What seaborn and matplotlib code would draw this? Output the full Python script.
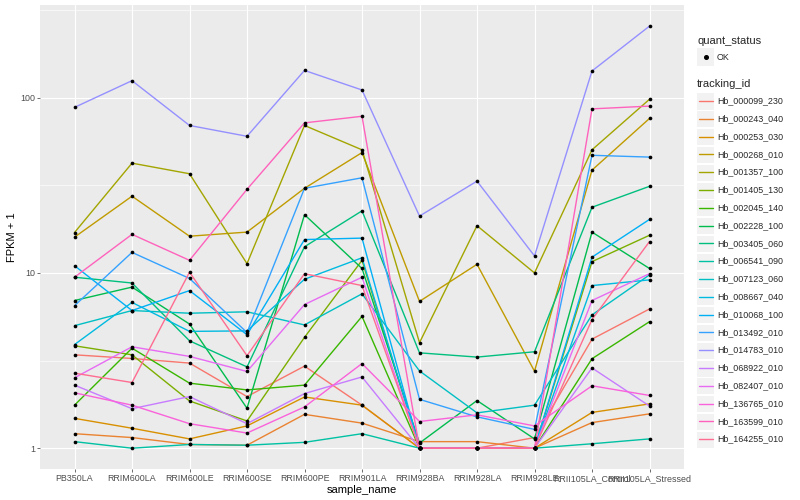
import numpy as np
import pandas as pd
import matplotlib
matplotlib.use("Agg")
import matplotlib.pyplot as plt
import seaborn as sns
from matplotlib.patches import Rectangle
from matplotlib.lines import Line2D
from matplotlib.ticker import NullFormatter

# samples on the x axis
samples = ["PB350LA", "RRIM600LA", "RRIM600LE", "RRIM600SE", "RRIM600PE",
           "RRIM901LA", "RRIM928BA", "RRIM928LA", "RRIM928LE",
           "RRII105LA_Control", "RRII105LA_Stressed"]

tracking_ids = ["Hb_000099_230", "Hb_000243_040", "Hb_000253_030", "Hb_000268_010",
                "Hb_001357_100", "Hb_001405_130", "Hb_002045_140", "Hb_002228_100",
                "Hb_003405_060", "Hb_006541_090", "Hb_007123_060", "Hb_008667_040",
                "Hb_010068_100", "Hb_013492_010", "Hb_014783_010", "Hb_068922_010",
                "Hb_082407_010", "Hb_136765_010", "Hb_163599_010", "Hb_164255_010"]

# FPKM + 1 per sample
hb_000099_230 = [3.41, 3.25, 3.06, 1.97, 2.94, 1.76, 1.0, 1.0, 1.15, 4.19, 6.23]
hb_000243_040 = [1.21, 1.15, 1.05, 1.04, 1.56, 1.39, 1.09, 1.09, 1.0, 1.40, 1.57]
hb_000253_030 = [1.48, 1.30, 1.13, 1.34, 1.96, 1.76, 1.0, 1.0, 1.0, 1.60, 1.79]
hb_000268_010 = [16.0, 27.4, 16.2, 17.1, 30.4, 48.6, 6.88, 11.2, 2.75, 38.6, 76.1]
hb_001357_100 = [17.0, 42.3, 36.8, 11.3, 69.4, 50.4, 4.0, 18.6, 10.0, 50.4, 97.9]
hb_001405_130 = [3.84, 3.41, 1.86, 1.43, 4.29, 11.8, 1.0, 1.0, 1.0, 11.6, 16.4]
hb_002045_140 = [1.76, 3.72, 2.35, 2.15, 2.29, 5.65, 1.0, 1.0, 1.0, 3.24, 5.27]
hb_002228_100 = [6.96, 8.3, 5.11, 1.69, 21.5, 10.6, 1.07, 1.87, 1.13, 17.1, 10.6]
hb_003405_060 = [9.45, 8.76, 4.1, 2.91, 14.1, 22.6, 3.5, 3.31, 3.55, 23.7, 31.2]
hb_006541_090 = [1.09, 1.0, 1.05, 1.04, 1.08, 1.21, 1.0, 1.0, 1.0, 1.06, 1.13]
hb_007123_060 = [5.0, 6.1, 5.89, 6.0, 5.05, 7.6, 2.76, 1.59, 1.76, 5.76, 9.75]
hb_008667_040 = [3.9, 6.79, 4.64, 4.67, 9.2, 12.2, 1.0, 1.0, 1.0, 8.47, 9.13]
hb_010068_100 = [11.0, 6.1, 7.93, 4.44, 15.5, 15.8, 1.0, 1.0, 1.0, 12.3, 20.2]
hb_013492_010 = [6.5, 13.1, 9.3, 4.57, 30.4, 34.9, 1.9, 1.51, 1.28, 46.9, 45.8]
hb_014783_010 = [88.0, 125.0, 69.4, 60.2, 143.0, 110.6, 21.1, 33.4, 12.5, 142.0, 256.0]
hb_068922_010 = [2.29, 1.68, 1.97, 1.38, 2.05, 2.55, 1.0, 1.0, 1.0, 2.87, 1.74]
hb_082407_010 = [2.52, 3.79, 3.34, 2.74, 6.6, 9.45, 1.0, 1.0, 1.0, 6.96, 9.9]
hb_136765_010 = [2.07, 1.76, 1.38, 1.22, 1.72, 3.04, 1.42, 1.55, 1.34, 2.27, 2.0]
hb_163599_010 = [9.45, 16.6, 11.8, 30.0, 71.8, 78.3, 1.0, 1.0, 1.0, 86.3, 89.5]
hb_164255_010 = [2.68, 2.37, 10.1, 3.37, 9.9, 8.47, 1.0, 1.0, 1.0, 5.42, 15.1]

series_values = [hb_000099_230, hb_000243_040, hb_000253_030, hb_000268_010,
                 hb_001357_100, hb_001405_130, hb_002045_140, hb_002228_100,
                 hb_003405_060, hb_006541_090, hb_007123_060, hb_008667_040,
                 hb_010068_100, hb_013492_010, hb_014783_010, hb_068922_010,
                 hb_082407_010, hb_136765_010, hb_163599_010, hb_164255_010]

# ggplot default hue palette, 20 levels
hue_colors = ["#F8766D", "#EA8331", "#D89000", "#C09B00", "#A3A500", "#7CAE00",
              "#39B600", "#00BB4E", "#00BF7D", "#00C1A3", "#00BFC4", "#00BAE0",
              "#00B0F6", "#35A2FF", "#9590FF", "#C77CFF", "#E76BF3", "#FA62DB",
              "#FF62BC", "#FF6C91"]

rows = []
for tid, vals in zip(tracking_ids, series_values):
    for s, v in zip(samples, vals):
        rows.append({"tracking_id": tid, "sample_name": s, "fpkm1": v, "quant_status": "OK"})
df = pd.DataFrame(rows)

sns.set_style("darkgrid")
plt.rcParams["font.family"] = ["Liberation Sans", "DejaVu Sans"]

W, H = 800, 500
fig = plt.figure(figsize=(8, 5), dpi=100)
px = lambda x, y: (x / W, 1 - y / H)

left, right, top, bottom = 40, 684, 5, 469.3
ax = fig.add_axes([left / W, 1 - bottom / H, (right - left) / W, (bottom - top) / H])
ax.set_facecolor("#EBEBEB")
ax.set_yscale("log")

palette = dict(zip(tracking_ids, hue_colors))
sns.lineplot(data=df, x="sample_name", y="fpkm1", hue="tracking_id", hue_order=tracking_ids,
             palette=palette, estimator=None, sort=False, legend=False, linewidth=1.0, ax=ax)
sns.scatterplot(data=df, x="sample_name", y="fpkm1", color="black", s=7, linewidth=0,
                legend=False, ax=ax, zorder=5)

# ggplot style limits: discrete expand 0.6, continuous 5% in log space
ax.set_xlim(-0.6, len(samples) - 1 + 0.6)
lo, hi = np.log10(df["fpkm1"].min()), np.log10(df["fpkm1"].max())
pad = (hi - lo) * 0.05
ax.set_ylim(10 ** (lo - pad), 10 ** (hi + pad))

ax.set_yticks([1, 10, 100])
ax.set_yticklabels(["1", "10", "100"])
ax.set_yticks([10 ** 0.5, 10 ** 1.5, 10 ** 2.5], minor=True)
ax.yaxis.set_minor_formatter(NullFormatter())
ax.tick_params(axis="both", which="major", length=2.2, width=0.5, color="#333333",
               labelcolor="#4D4D4D", labelsize=6.4, pad=1.5, bottom=True, left=True)
ax.tick_params(axis="y", which="minor", length=0)
ax.grid(which="major", color="white", linewidth=0.85)
ax.grid(which="minor", axis="y", color="white", linewidth=0.45)
ax.set_axisbelow(True)
for sp in ax.spines.values():
    sp.set_visible(False)

ax.set_xlabel("sample_name", fontsize=8, color="black", labelpad=1)
ax.set_ylabel("FPKM + 1", fontsize=8, color="black", labelpad=2)

# legends, drawn in ggplot fashion
key = 17
kx = 697
fig.text(*px(kx, 41), "quant_status", fontsize=8, va="center", ha="left")
fig.add_artist(Rectangle(px(kx, 57 + key / 2), key / W, key / H, transform=fig.transFigure,
                         facecolor="#F2F2F2", edgecolor="none"))
fig.add_artist(Line2D([px(kx + key / 2, 0)[0]], [px(0, 57)[1]], marker="o", markersize=2.6,
                      color="black", linestyle="none", transform=fig.transFigure))
fig.text(*px(kx + key + 3, 57), "OK", fontsize=6.4, va="center", ha="left")

fig.text(*px(kx, 84), "tracking_id", fontsize=8, va="center", ha="left")
for i, (tid, col) in enumerate(zip(tracking_ids, hue_colors)):
    cy = 101 + i * 17.8
    fig.add_artist(Rectangle(px(kx, cy + key / 2), key / W, (key - 1) / H,
                             transform=fig.transFigure, facecolor="#F2F2F2", edgecolor="none"))
    fig.add_artist(Line2D([px(kx + 1.5, 0)[0], px(kx + key - 1.5, 0)[0]], [px(0, cy)[1]] * 2,
                          color=col, linewidth=1.0, transform=fig.transFigure))
    fig.text(*px(kx + key + 3, cy), tid, fontsize=6.4, va="center", ha="left")

fig.savefig("out.png", dpi=100)
